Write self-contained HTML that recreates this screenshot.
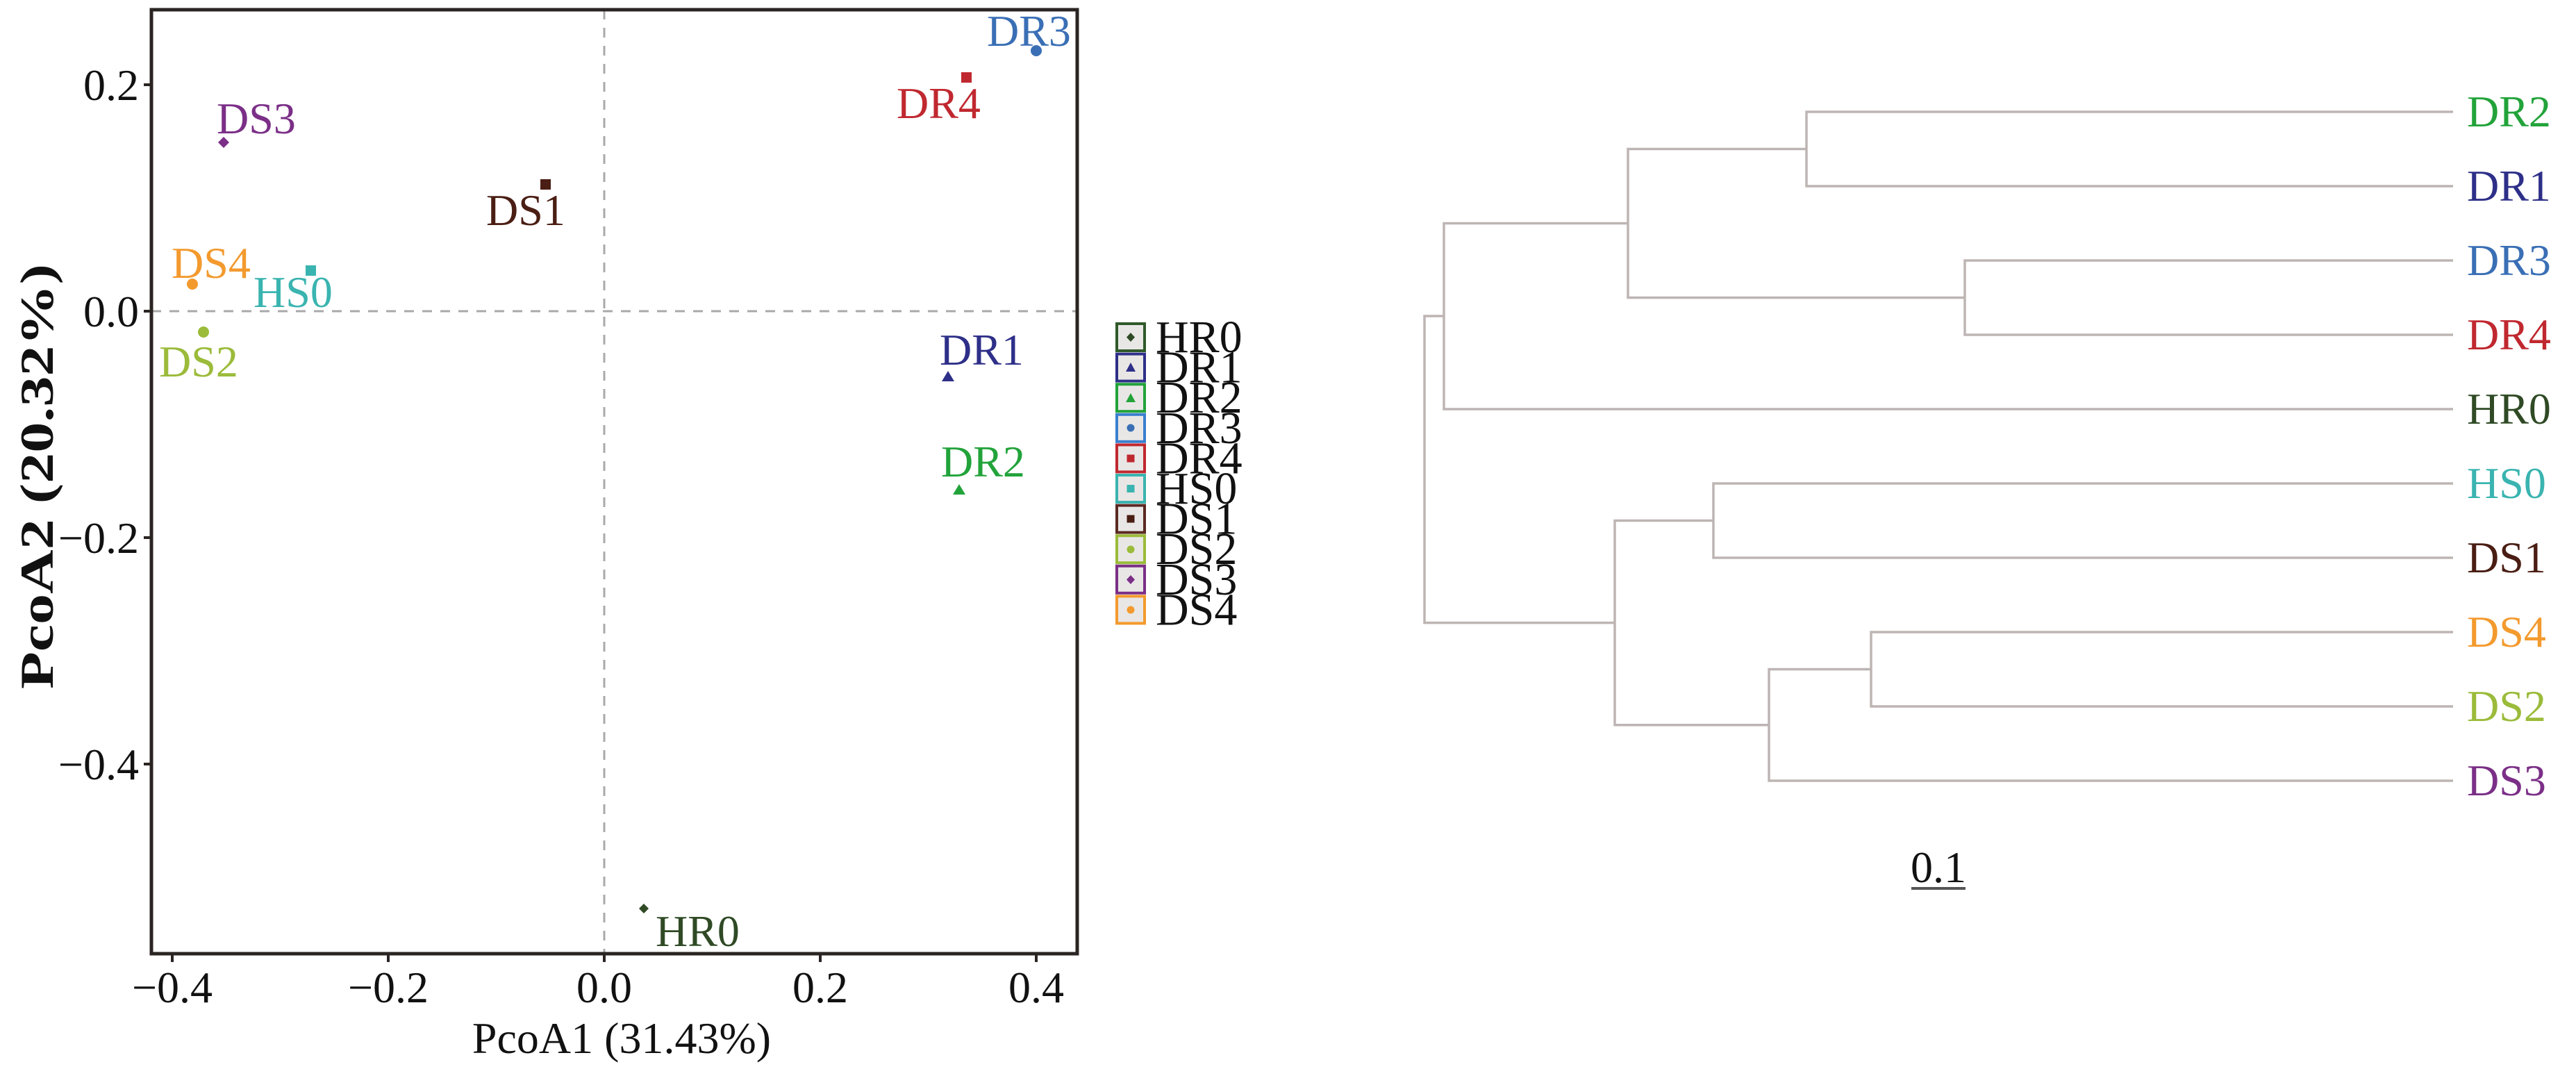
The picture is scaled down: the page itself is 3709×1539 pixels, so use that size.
<!DOCTYPE html>
<html><head><meta charset="utf-8"><style>
html,body{margin:0;padding:0;background:#fff;}
svg{display:block;}
text{font-family:"Liberation Serif",serif;}
</style></head><body>
<svg width="3709" height="1539" viewBox="0 0 3709 1539" xmlns="http://www.w3.org/2000/svg">
<!-- PCoA panel -->
<line x1="870" y1="14" x2="870" y2="1373" stroke="#a9a9a9" stroke-width="3" stroke-dasharray="14,12"/>
<line x1="218" y1="448" x2="1551" y2="448" stroke="#a9a9a9" stroke-width="3" stroke-dasharray="14,12"/>
<rect x="218" y="14" width="1333" height="1359" fill="none" stroke="#2a2522" stroke-width="5"/>
<g stroke="#2a2522" stroke-width="4">
<line x1="207" y1="122" x2="218" y2="122"/><line x1="207" y1="448" x2="218" y2="448"/>
<line x1="207" y1="774" x2="218" y2="774"/><line x1="207" y1="1100" x2="218" y2="1100"/>
<line x1="248" y1="1373" x2="248" y2="1385"/><line x1="559" y1="1373" x2="559" y2="1385"/>
<line x1="870" y1="1373" x2="870" y2="1385"/><line x1="1181" y1="1373" x2="1181" y2="1385"/>
<line x1="1492" y1="1373" x2="1492" y2="1385"/>
</g>
<g font-size="64" fill="#111" text-anchor="end">
<text x="200" y="144">0.2</text><text x="200" y="470">0.0</text>
<text x="200" y="796">−0.2</text><text x="200" y="1122">−0.4</text>
</g>
<g font-size="64" fill="#111" text-anchor="middle">
<text x="248" y="1443">−0.4</text><text x="559" y="1443">−0.2</text>
<text x="870" y="1443">0.0</text><text x="1181" y="1443">0.2</text><text x="1492" y="1443">0.4</text>
<text x="895" y="1516">PcoA1 (31.43%)</text>
</g>
<text transform="translate(76,686) rotate(-90)" font-weight="bold" font-size="68" fill="#111" text-anchor="middle" textLength="612" lengthAdjust="spacingAndGlyphs">PcoA2 (20.32%)</text>
<!-- points -->
<circle cx="1492" cy="73" r="8" fill="#3a6fb5"/>
<rect x="1384" y="104" width="15" height="15" fill="#c0282f"/>
<polygon points="322,197 330,205 322,213 314,205" fill="#7b2f87"/>
<rect x="778" y="258" width="15" height="15" fill="#4a1e14"/>
<rect x="440" y="382" width="15" height="15" fill="#3ab4b0"/>
<circle cx="277" cy="409" r="8" fill="#f39a2e"/>
<circle cx="293" cy="478" r="8" fill="#9bbb3a"/>
<polygon points="1365,534 1374,549 1356,549" fill="#2e2f88"/>
<polygon points="1381,697 1390,712 1372,712" fill="#22a33a"/>
<polygon points="927,1301 934,1308 927,1315 920,1308" fill="#2f4a25"/>
<g font-size="64">
<text x="1421" y="66" fill="#3a6fb5">DR3</text>
<text x="1291" y="170" fill="#c0282f">DR4</text>
<text x="312" y="192" fill="#7b2f87">DS3</text>
<text x="700" y="324" fill="#4a1e14">DS1</text>
<text x="247" y="400" fill="#f39a2e">DS4</text>
<text x="365" y="442" fill="#3ab4b0">HS0</text>
<text x="229" y="542" fill="#9bbb3a">DS2</text>
<text x="1353" y="525" fill="#2e2f88">DR1</text>
<text x="1355" y="686" fill="#22a33a">DR2</text>
<text x="944" y="1362" fill="#2f4a25">HR0</text>
</g>
<!-- legend -->
<g stroke-width="4" fill="#e9e7e6">
<rect x="1608" y="466" width="40" height="39" stroke="#2f5a2a"/>
<rect x="1608" y="509.6" width="40" height="39" stroke="#2e2f88"/>
<rect x="1608" y="553.2" width="40" height="39" stroke="#22a33a"/>
<rect x="1608" y="596.8" width="40" height="39" stroke="#3a7fcf"/>
<rect x="1608" y="640.4" width="40" height="39" stroke="#c0282f"/>
<rect x="1608" y="684" width="40" height="39" stroke="#3ab4b0"/>
<rect x="1608" y="727.6" width="40" height="39" stroke="#5a2a22"/>
<rect x="1608" y="771.2" width="40" height="39" stroke="#9bbb3a"/>
<rect x="1608" y="814.8" width="40" height="39" stroke="#7b2f87"/>
<rect x="1608" y="858.4" width="40" height="39" stroke="#f39a2e"/>
</g>
<polygon points="1628,479 1634,485.5 1628,492 1622,485.5" fill="#2f4a25"/>
<polygon points="1628,522 1635,535 1621,535" fill="#2e2f88"/>
<polygon points="1628,566 1635,579 1621,579" fill="#22a33a"/>
<circle cx="1628" cy="616" r="5.5" fill="#3a6fb5"/>
<rect x="1622.5" y="654.5" width="11" height="11" fill="#c0282f"/>
<rect x="1622.5" y="698" width="11" height="11" fill="#3ab4b0"/>
<rect x="1622.5" y="741.5" width="11" height="11" fill="#4a1e14"/>
<circle cx="1628" cy="791" r="5.5" fill="#9bbb3a"/>
<polygon points="1628,828 1634,834.5 1628,841 1622,834.5" fill="#7b2f87"/>
<circle cx="1628" cy="878" r="5.5" fill="#f39a2e"/>
<g font-size="66" fill="#111">
<text x="1664" y="507">HR0</text><text x="1664" y="550.6">DR1</text>
<text x="1664" y="594.2">DR2</text><text x="1664" y="637.8">DR3</text>
<text x="1664" y="681.4">DR4</text><text x="1664" y="725">HS0</text>
<text x="1664" y="768.6">DS1</text><text x="1664" y="812.2">DS2</text>
<text x="1664" y="855.8">DS3</text><text x="1664" y="899.4">DS4</text>
</g>
<!-- dendrogram -->
<g stroke="#bdb5b3" stroke-width="3.5" fill="none">
<path d="M3532,161 H2601 V268 H3532"/>
<path d="M3532,375 H2829 V482 H3532"/>
<path d="M2601,214.5 H2344 V428.5 H2829"/>
<path d="M2344,321.5 H2079 V589 H3532"/>
<path d="M3532,696 H2467 V803 H3532"/>
<path d="M3532,910 H2694 V1017 H3532"/>
<path d="M2694,963.5 H2547 V1124 H3532"/>
<path d="M2547,1043.75 H2325 V749.5 H2467"/>
<path d="M2079,455 H2051 V896.6 H2325"/>
</g>
<g font-size="64">
<text x="3552" y="182" fill="#22a33a">DR2</text>
<text x="3552" y="289" fill="#2e2f88">DR1</text>
<text x="3552" y="396" fill="#3a6fb5">DR3</text>
<text x="3552" y="503" fill="#c0282f">DR4</text>
<text x="3552" y="610" fill="#2f4a25">HR0</text>
<text x="3552" y="717" fill="#3ab4b0">HS0</text>
<text x="3552" y="824" fill="#4a1e14">DS1</text>
<text x="3552" y="931" fill="#f39a2e">DS4</text>
<text x="3552" y="1038" fill="#9bbb3a">DS2</text>
<text x="3552" y="1145" fill="#7b2f87">DS3</text>
<text x="2791" y="1270" fill="#111" text-anchor="middle">0.1</text>
</g>
<line x1="2752" y1="1279" x2="2830" y2="1279" stroke="#555" stroke-width="4"/>
</svg>
</body></html>
